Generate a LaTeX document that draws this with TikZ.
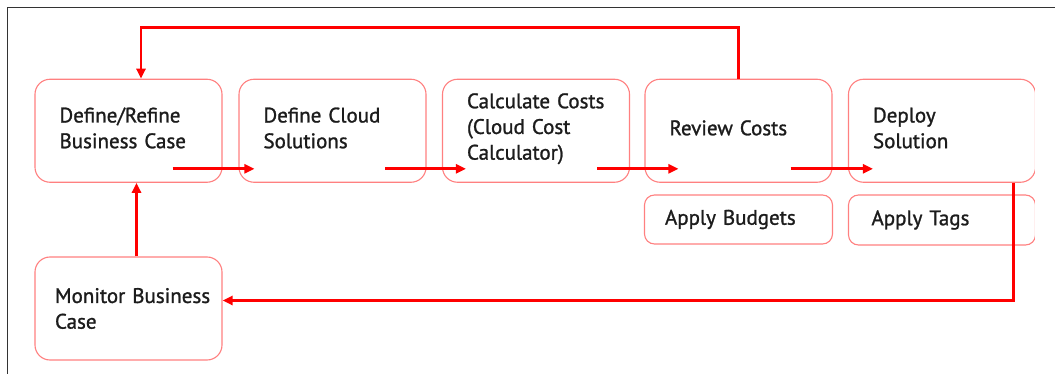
\documentclass[tikz,border=0pt]{standalone}
\usepackage{fontspec}
\setmainfont{PT Sans}
\newfontface\semibf{PT Sans}[FakeBold=1.2]
\usetikzlibrary{arrows.meta,calc}
\definecolor{boxred}{HTML}{FF8080}
\definecolor{arrred}{HTML}{FF0000}
\definecolor{txt}{HTML}{1C1C1C}
\definecolor{framec}{HTML}{333333}
\tikzset{
  bigbox/.style={draw=boxred, line width=1.1pt, rounded corners=15pt, align=left,
    minimum height=103pt, text width=138pt, inner xsep=24.5pt, inner ysep=0pt,
    text=txt, font=\semibf\fontsize{21}{25.7}\selectfont},
  smallbox/.style={draw=boxred, line width=1.1pt, rounded corners=10pt, align=left,
    inner ysep=0pt, text=txt, font=\semibf\fontsize{21}{25.7}\selectfont},
  arr/.style={draw=arrred, line width=2.8pt, -{Triangle[length=10pt,width=9pt]}},
  frameline/.style={draw=framec, line width=1.3pt}
}
\begin{document}
\begin{tikzpicture}[x=1pt,y=-1pt]
\useasboundingbox[fill=white] (0,0) rectangle (1055,374);
\draw[frameline] (1055,7.3) -- (7.3,7.3) -- (7.3,374);
\begin{scope}
\clip (0,0) rectangle (1034.8,374);
\node[bigbox,text depth=31.5pt] (b1) at (128.5,130.75) {\mbox{Define/Refine}\\\mbox{Business Case}};
\node[bigbox,text depth=31.5pt] (b2) at (332.5,130.75) {\mbox{Define Cloud}\\Solutions};
\node[bigbox,text depth=60pt] (b3) at (536,130.75) {\mbox{Calculate Costs}\\\mbox{(Cloud Cost}\\\mbox{Calculator)}};
\node[bigbox,text depth=6pt] (b4) at (738.5,130.75) {\mbox{Review Costs}};
\node[bigbox,text depth=31.5pt] (b5) at (942,130.75) {Deploy\\Solution};
\node[smallbox, minimum height=49pt, text width=147pt, inner xsep=20.5pt] (bud) at (738.5,219.5) {\mbox{Apply Budgets}};
\node[smallbox, minimum height=50pt, text width=141pt, inner xsep=23pt] (tags) at (942,220) {\mbox{Apply Tags}};
\node[bigbox, text width=147pt, inner xsep=20pt] (mon) at (128.5,308.5) {\mbox{Monitor Business}\\Case};
\end{scope}
% feedback loop from review to define
\draw[arr] (b4.north) -- ++(0,-51) -| ([xshift=12.5pt]b1.north);
% main flow
\draw[arr] ([xshift=-50pt,yshift=14pt]b1.south east) -- ([xshift=16pt,yshift=14pt]b2.south west);
\draw[arr] ([xshift=-41.3pt,yshift=14pt]b2.south east) -- ([xshift=24pt,yshift=14pt]b3.south west);
\draw[arr] ([xshift=-33pt,yshift=14pt]b3.south east) -- ([xshift=34pt,yshift=14pt]b4.south west);
\draw[arr] ([xshift=-42pt,yshift=14pt]b4.south east) -- ([xshift=25pt,yshift=14pt]b5.south west);
% monitor up
\draw[arr] ([xshift=8pt]mon.north) -- ([xshift=8pt]b1.south);
% deploy down to monitor
\draw[arr] ([xshift=71.5pt]b5.south) |- ([yshift=8pt]mon.east);
\end{tikzpicture}
\end{document}
